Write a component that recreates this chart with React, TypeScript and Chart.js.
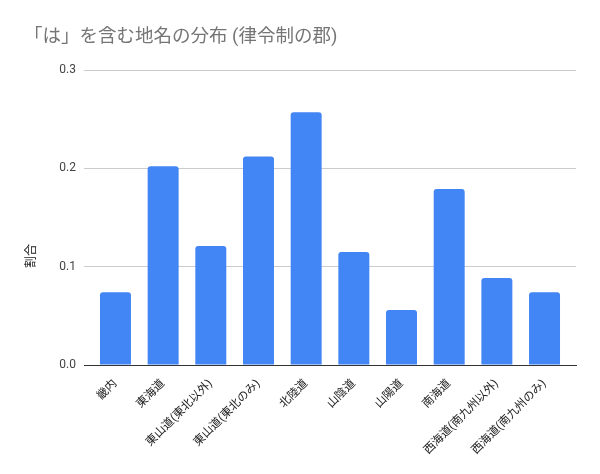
import React, { useEffect, useRef } from "react";
import Chart from "chart.js/auto";

const categories: string[] = [
  "畿内",
  "東海道",
  "東山道(東北以外)",
  "東山道(東北のみ)",
  "北陸道",
  "山陰道",
  "山陽道",
  "南海道",
  "西海道(南九州以外)",
  "西海道(南九州のみ)",
];

const shares: number[] = [0.074, 0.202, 0.121, 0.212, 0.257, 0.115, 0.056, 0.179, 0.0885, 0.074];

const yTicks: number[] = [0, 0.1, 0.2, 0.3];

const FONT = "Roboto, 'Noto Sans CJK JP', sans-serif";

// draws the y axis title where Google Charts puts it (centred on the whole plot incl. labels)
const yTitlePlugin = {
  id: "yTitle",
  afterDraw(chart: Chart) {
    const ctx = chart.ctx;
    ctx.save();
    ctx.translate(32, 256);
    ctx.rotate(-Math.PI / 2);
    ctx.font = `12px ${FONT}`;
    ctx.fillStyle = "#222222";
    ctx.textAlign = "center";
    ctx.textBaseline = "middle";
    ctx.fillText("割合", 0, 0);
    ctx.restore();
  },
};

const App: React.FC = () => {
  const chartRef = useRef<HTMLCanvasElement>(null);
  const chartInstanceRef = useRef<Chart | null>(null);

  useEffect(() => {
    document.body.style.margin = "0";
    if (!chartRef.current) return;
    const ctx = chartRef.current.getContext("2d");
    if (!ctx) return;

    if (chartInstanceRef.current) {
      chartInstanceRef.current.destroy();
    }

    chartInstanceRef.current = new Chart(ctx, {
      type: "bar",
      data: {
        datasets: [
          {
            label: "割合",
            data: shares.map((v, i) => ({ x: i, y: v })),
            backgroundColor: "#4285F4",
            borderRadius: 3,
            categoryPercentage: 1,
            barPercentage: 0.65,
          },
        ],
      },
      options: {
        responsive: false,
        animation: false,
        layout: { padding: { left: 24, right: 24, top: 0, bottom: 0 } },
        plugins: {
          legend: { display: false },
          tooltip: { enabled: false },
          title: {
            display: true,
            text: "「は」を含む地名の分布 (律令制の郡)",
            align: "start",
            color: "#757575",
            font: { family: FONT, size: 18.5, weight: "normal" },
            padding: { top: 26, bottom: 21.8 },
          },
        },
        scales: {
          x: {
            type: "linear",
            offset: false,
            min: -0.66,
            max: 9.66,
            grid: { display: false },
            border: { display: true, color: "#333333" },
            afterBuildTicks: (axis: any) => {
              axis.ticks = categories.map((_, i) => ({ value: i }));
            },
            afterFit: (axis: any) => {
              axis.height = 109;
            },
            ticks: {
              autoSkip: false,
              minRotation: 45,
              maxRotation: 45,
              color: "#222222",
              font: { family: FONT, size: 11.5 },
              padding: 4,
              callback: (value: any) => categories[value as number] ?? "",
            },
          },
          y: {
            min: 0,
            max: 0.3,
            border: { display: false },
            grid: {
              drawTicks: false,
              color: (c: any) => (c.tick && c.tick.value === 0 ? "#333333" : "#cccccc"),
            },
            afterBuildTicks: (axis: any) => {
              axis.ticks = yTicks.map((v) => ({ value: v }));
            },
            afterFit: (axis: any) => {
              axis.width = 60;
            },
            ticks: {
              color: "#444444",
              padding: 8,
              font: { family: FONT, size: 12 },
              callback: (value: any) => Number(value).toFixed(1),
            },
          },
        },
      },
      plugins: [yTitlePlugin],
    });

    return () => {
      if (chartInstanceRef.current) {
        chartInstanceRef.current.destroy();
        chartInstanceRef.current = null;
      }
    };
  }, []);

  return (
    <div style={{ position: "fixed", left: 0, top: 0, width: 600, height: 474, background: "#ffffff" }}>
      <canvas ref={chartRef} width={600} height={474} />
    </div>
  );
};

export default App;
